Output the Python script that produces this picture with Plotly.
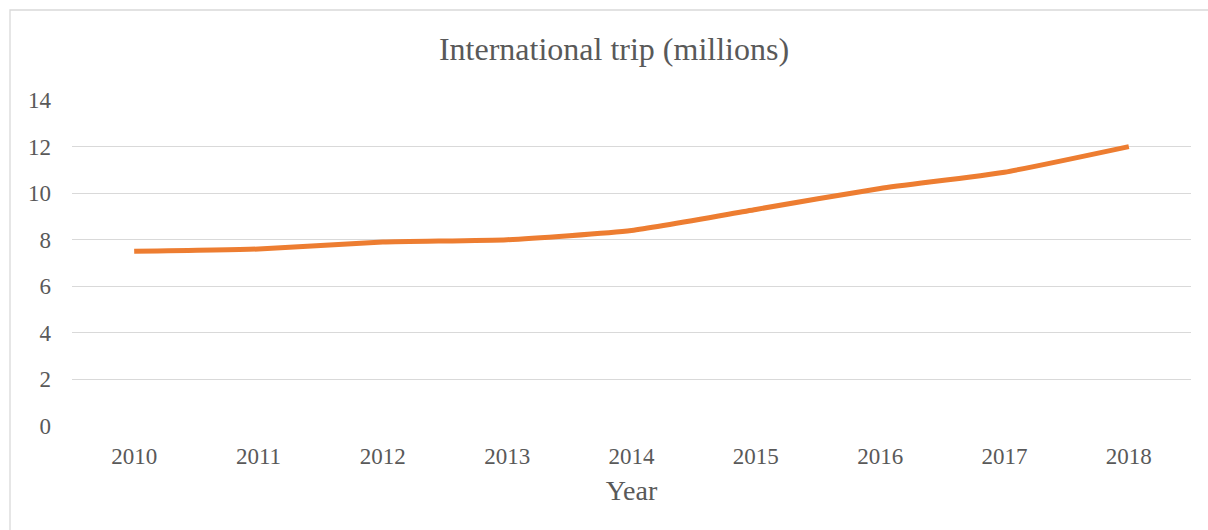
import plotly.graph_objects as go

years = ["2010", "2011", "2012", "2013", "2014", "2015", "2016", "2017", "2018"]
trips = [7.5, 7.6, 7.9, 8.0, 8.4, 9.3, 10.2, 10.9, 12.0]
y_ticks = [0, 2, 4, 6, 8, 10, 12, 14]

FONT = "Liberation Serif, Times New Roman, serif"
GRAY = "#595959"

fig = go.Figure()
fig.add_trace(go.Scatter(
    x=years, y=trips, mode="lines",
    line=dict(color="#ED7D31", width=5, shape="spline", smoothing=0.5),
    showlegend=False, hoverinfo="x+y",
))

W, H = 1208, 530
L, R, T, B = 72, 17, 100, 104
pw, ph = W - L - R, H - T - B

def px_x(x):
    return (x - L) / pw

def px_y(y):
    return (H - B - y) / ph

fig.add_shape(type="rect", xref="paper", yref="paper",
              x0=px_x(10), x1=px_x(1220), y0=px_y(540), y1=px_y(10),
              line=dict(color="#D9D9D9", width=1.3), fillcolor="rgba(0,0,0,0)", layer="below")

fig.update_layout(
    width=W, height=H,
    margin=dict(l=L, r=R, t=T, b=B, autoexpand=False),
    paper_bgcolor="white", plot_bgcolor="white",
    font=dict(family=FONT, color=GRAY, size=23),
    title=dict(text="International trip (millions)", x=614 / W, xanchor="center",
               y=1 - 49 / H, yanchor="middle",
               font=dict(family=FONT, size=32, color=GRAY)),
    xaxis=dict(type="category", range=[-0.5, 8.5], showgrid=False, showline=False,
               zeroline=False, ticks="", ticklabelstandoff=14,
               tickfont=dict(size=23, color=GRAY),
               title=dict(text="Year", font=dict(size=28, color=GRAY), standoff=12)),
    yaxis=dict(range=[0, 14], tickvals=y_ticks, showgrid=True, gridcolor="#D9D9D9",
               gridwidth=1.3, zeroline=False, showline=False, ticks="",
               ticklabelstandoff=20, tickfont=dict(size=23, color=GRAY)),
)

fig.write_html("out.html")
